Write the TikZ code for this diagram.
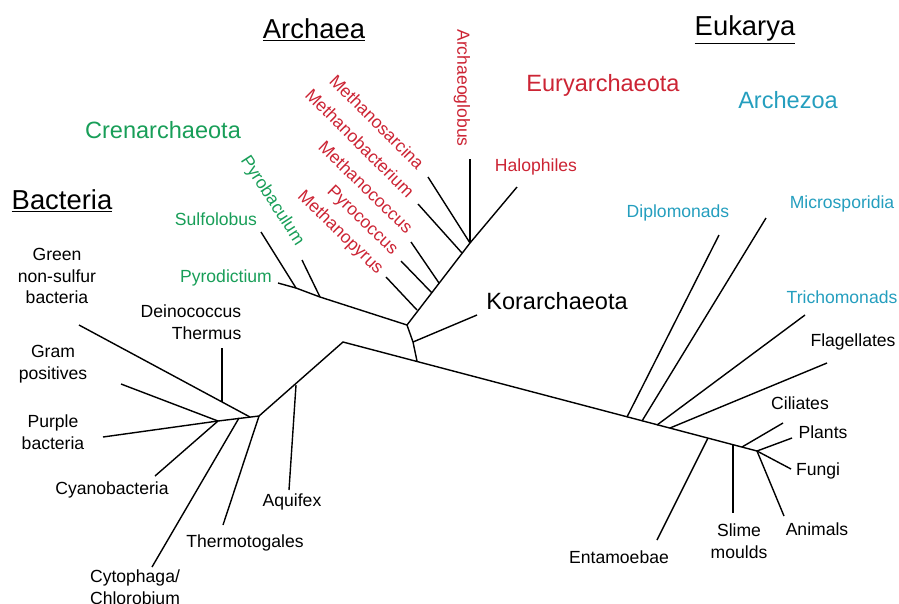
\documentclass[tikz,border=0pt]{standalone}
\usepackage{fontspec}
\setmainfont{Liberation Sans}
\definecolor{ArchRed}{RGB}{204, 36, 52}
\definecolor{CrenGreen}{RGB}{24, 158, 88}
\definecolor{ZoaBlue}{RGB}{36, 158, 190}

\begin{document}
\begin{tikzpicture}[x=0.02cm, y=-0.02cm, line width=0.8pt,
    lbl/.style={font=\fontsize{10}{12.4}\selectfont, inner sep=0pt, align=center},
    grp/.style={font=\fontsize{13.4}{16}\selectfont, inner sep=0pt},
    ttl/.style={font=\fontsize{15.6}{18}\selectfont, inner sep=0pt}]
  \useasboundingbox (0,0) rectangle (899,603);

  % junctions along the long stem
  \coordinate (bend) at (343,342);
  \coordinate (crown) at (757,451);
  \coordinate (aRoot) at (417,361);
  \coordinate (aKor) at (413,342);
  \coordinate (aSplit) at (407,325);

  % Crenarchaeota
  \coordinate (c1) at (320,297);
  \coordinate (c2) at (296,288);
  \coordinate (tPyrob) at (302,260);
  \coordinate (tSulfo) at (261,232);
  \coordinate (tPyrod) at (278,283);

  % Euryarchaeota
  \coordinate (e1) at (417,310);
  \coordinate (e2) at (432,293);
  \coordinate (e3) at (439,283);
  \coordinate (e4) at (462,253);
  \coordinate (e5) at (470,243);
  \coordinate (tMpyrus) at (386,277);
  \coordinate (tPyroc) at (401,261);
  \coordinate (tMcoccus) at (411,242);
  \coordinate (tMbact) at (418,204);
  \coordinate (tMsarc) at (428,177);
  \coordinate (tArchaeo) at (470,159);
  \coordinate (tHalo) at (517,187);
  \coordinate (tKor) at (477,315);

  % Bacteria
  \coordinate (b1) at (296,385);
  \coordinate (b2) at (259,416);
  \coordinate (b3) at (250,417);
  \coordinate (b4) at (239,418);
  \coordinate (b5) at (218,421);
  \coordinate (bDein) at (222,402);
  \coordinate (tAquif) at (289,490);
  \coordinate (tThermo) at (223,525);
  \coordinate (tGreen) at (79,325);
  \coordinate (tDein) at (222,348);
  \coordinate (tCyto) at (152,567);
  \coordinate (tGram) at (121,384);
  \coordinate (tPurple) at (103,437);
  \coordinate (tCyano) at (155,476);

  % Eukarya
  \coordinate (k1) at (627,417);
  \coordinate (k2) at (642,421);
  \coordinate (k3) at (657,425);
  \coordinate (k4) at (670,428);
  \coordinate (k5) at (708,438);
  \coordinate (k6) at (733,445);
  \coordinate (k7) at (742,447);
  \coordinate (tDiplo) at (719,235);
  \coordinate (tMicro) at (766,218);
  \coordinate (tTrich) at (805,315);
  \coordinate (tFlag) at (827,363);
  \coordinate (tEntam) at (657,540);
  \coordinate (tSlime) at (733,513);
  \coordinate (tCili) at (783,423);
  \coordinate (tPlant) at (792,438);
  \coordinate (tFungi) at (791,469);
  \coordinate (tAnim) at (784,516);

  % tree
  \draw (b2) -- (bend) -- (crown);
  \draw (b1) -- (tAquif);
  \draw (b2) -- (tThermo);
  \draw (b2) -- (b5);
  \draw (b3) -- (tGreen);
  \draw (bDein) -- (tDein);
  \draw (b4) -- (tCyto);
  \draw (b5) -- (tGram);
  \draw (b5) -- (tPurple);
  \draw (b5) -- (tCyano);

  \draw (aRoot) -- (aKor) -- (aSplit) -- (c1) -- (c2) -- (tPyrod);
  \draw (aKor) -- (tKor);
  \draw (c2) -- (tSulfo);
  \draw (c1) -- (tPyrob);
  \draw (aSplit) -- (e5) -- (tHalo);
  \draw (e1) -- (tMpyrus);
  \draw (e2) -- (tPyroc);
  \draw (e3) -- (tMcoccus);
  \draw (e4) -- (tMbact);
  \draw (e5) -- (tMsarc);
  \draw (e5) -- (tArchaeo);

  \draw (k1) -- (tDiplo);
  \draw (k2) -- (tMicro);
  \draw (k3) -- (tTrich);
  \draw (k4) -- (tFlag);
  \draw (k5) -- (tEntam);
  \draw (k6) -- (tSlime);
  \draw (k7) -- (tCili);
  \draw (crown) -- (tPlant);
  \draw (crown) -- (tFungi);
  \draw (crown) -- (tAnim);

  % domain titles
  \node[ttl] (bacteria) at (62,201) {\underline{Bacteria}};
  \node[ttl] (archaea) at (314,30) {\underline{Archaea}};
  \node[ttl] (eukarya) at (745,30) {\underline{Eukarya}};

  % group names
  \node[grp, CrenGreen] (cren) at (163,130) {Crenarchaeota};
  \node[grp, ArchRed] (eury) at (603,85) {Euryarchaeota};
  \node[grp, ZoaBlue] (archezoa) at (788,100) {Archezoa};
  \node[grp] (kor) at (557,301) {Korarchaeota};

  % archaea labels
  \node[lbl, CrenGreen] (sulfo) at (216,219) {Sulfolobus};
  \node[lbl, CrenGreen] (pyrod) at (226,278) {Pyrodictium};
  \node[lbl, CrenGreen, rotate=-57] (pyrob) at (272,201) {Pyrobaculum};
  \node[lbl, ArchRed, rotate=-45] (msarc) at (377,122) {Methanosarcina};
  \node[lbl, ArchRed, rotate=-45] (mbact) at (360,143) {Methanobacterium};
  \node[lbl, ArchRed, rotate=-44] (mcoccus) at (366,187) {Methanococcus};
  \node[lbl, ArchRed, rotate=-44] (pyroc) at (362,221) {Pyrococcus};
  \node[lbl, ArchRed, rotate=-44] (mpyrus) at (340,233) {Methanopyrus};
  \node[lbl, ArchRed, rotate=-90] (archaeo) at (462,88) {Archaeoglobus};
  \node[lbl, ArchRed] (halo) at (536,167) {Halophiles};

  % bacteria labels
  \node[lbl] (green) at (57,276) {Green\\non-sulfur\\bacteria};
  \node[lbl, align=right] (dein) at (191,322) {Deinococcus\\Thermus};
  \node[lbl] (gram) at (53,364) {Gram\\positives};
  \node[lbl] (purple) at (53,432) {Purple\\bacteria};
  \node[lbl] (cyano) at (112,490) {Cyanobacteria};
  \node[lbl] (aquif) at (292,502) {Aquifex};
  \node[lbl] (thermo) at (245,543) {Thermotogales};
  \node[lbl] (cyto) at (135,587) {Cytophaga/\\Chlorobium};

  % eukarya labels
  \node[lbl, ZoaBlue] (diplo) at (678,213) {Diplomonads};
  \node[lbl, ZoaBlue] (micro) at (842,204) {Microsporidia};
  \node[lbl, ZoaBlue] (trich) at (842,297) {Trichomonads};
  \node[lbl] (flag) at (853,342) {Flagellates};
  \node[lbl] (cili) at (800,403) {Ciliates};
  \node[lbl] (plant) at (823,432) {Plants};
  \node[lbl] (fungi) at (818,471) {Fungi};
  \node[lbl] (anim) at (817,529) {Animals};
  \node[lbl] (slime) at (739,541) {Slime\\moulds};
  \node[lbl] (entam) at (619,557) {Entamoebae};
\end{tikzpicture}
\end{document}
